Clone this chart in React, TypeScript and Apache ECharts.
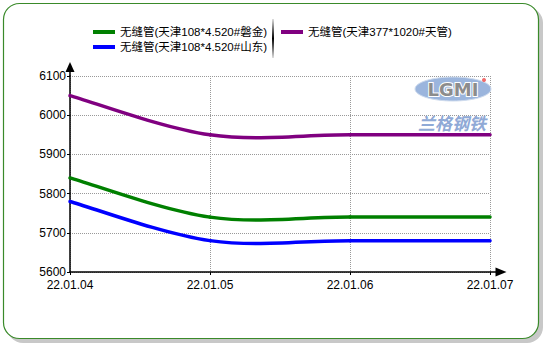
import React, { useEffect, useRef } from "react";
import * as echarts from "echarts";

const categories = ["22.01.04", "22.01.05", "22.01.06", "22.01.07"];
const seriesNames = [
  "无缝管(天津108*4.520#磐金)",
  "无缝管(天津108*4.520#山东)",
  "无缝管(天津377*1020#天管)",
];
const panjin = [5840, 5740, 5740, 5740];
const shandong = [5780, 5680, 5680, 5680];
const tianguan = [6050, 5950, 5950, 5950];
const colors = ["#008000", "#0000ff", "#800080"];

const FONT = "'Liberation Sans', Arial, sans-serif";
const CJK = "'Liberation Sans', 'Noto Sans CJK SC', sans-serif";

function makeSeries(name: string, values: number[], color: string) {
  const n = values.length;
  return {
    name,
    type: "custom",
    data: values.map((v, i) => [i, v]),
    itemStyle: { color },
    z: 3,
    renderItem: (params: any, api: any) => {
      const i = params.dataIndex;
      if (i >= n - 1) return null;
      const pt = (k: number) => {
        const kk = Math.max(0, Math.min(n - 1, k));
        return api.coord([kk, values[kk]]);
      };
      const p0 = pt(i - 1);
      const p1 = pt(i);
      const p2 = pt(i + 1);
      const p3 = pt(i + 2);
      const t1x = (p2[0] - p0[0]) / 2;
      const t1y = (p2[1] - p0[1]) / 2;
      const t2x = (p3[0] - p1[0]) / 2;
      const t2y = (p3[1] - p1[1]) / 2;
      return {
        type: "bezierCurve",
        shape: {
          x1: p1[0],
          y1: p1[1],
          x2: p2[0],
          y2: p2[1],
          cpx1: p1[0] + t1x / 3,
          cpy1: p1[1] + t1y / 3,
          cpx2: p2[0] - t2x / 3,
          cpy2: p2[1] - t2y / 3,
        },
        style: { stroke: color, lineWidth: 3.5, fill: null, lineCap: "round" },
      };
    },
  };
}

export default function App() {
  const ref = useRef<HTMLDivElement>(null);
  useEffect(() => {
    if (!ref.current) return;
    const chart = echarts.init(ref.current, undefined, { renderer: "svg" });
    const legendText = { fontSize: 11.5, color: "#000", fontFamily: CJK, lineHeight: 14 };
    chart.setOption({
      animation: false,
      backgroundColor: "transparent",
      legend: [
        {
          orient: "vertical",
          left: 88,
          top: 20,
          itemWidth: 22,
          itemHeight: 4,
          itemGap: 1,
          icon: "rect",
          textStyle: legendText,
          data: [seriesNames[0], seriesNames[1]],
          selectedMode: false,
        },
        {
          orient: "vertical",
          left: 276,
          top: 20,
          itemWidth: 22,
          itemHeight: 4,
          itemGap: 1,
          icon: "rect",
          textStyle: legendText,
          data: [seriesNames[2]],
          selectedMode: false,
        },
      ],
      grid: { left: 70, right: 60, top: 76, bottom: 78, containLabel: false },
      xAxis: {
        type: "category",
        data: categories,
        boundaryGap: false,
        axisLine: {
          lineStyle: { color: "#000", width: 1.5 },
          symbol: ["none", "triangle"],
          symbolSize: [9, 11],
          symbolOffset: [0, 11],
        },
        axisTick: { show: true, length: 3, lineStyle: { color: "#000" } },
        axisLabel: { color: "#000", fontSize: 12, fontFamily: FONT, margin: 7 },
        splitLine: { show: true, lineStyle: { color: "#999", type: "dotted", width: 1 } },
      },
      yAxis: {
        type: "value",
        min: 5600,
        max: 6100,
        interval: 100,
        axisLine: {
          show: true,
          lineStyle: { color: "#000", width: 1.5 },
          symbol: ["none", "triangle"],
          symbolSize: [9, 10],
          symbolOffset: [0, 9],
        },
        axisTick: { show: true, length: 3, lineStyle: { color: "#000" } },
        axisLabel: {
          color: "#000",
          fontSize: 12,
          fontFamily: FONT,
          margin: 4,
          formatter: (v: number) => String(v),
        },
        splitLine: { show: true, lineStyle: { color: "#999", type: "dotted", width: 1 } },
      },
      series: [
        makeSeries(seriesNames[0], panjin, colors[0]),
        makeSeries(seriesNames[1], shandong, colors[1]),
        makeSeries(seriesNames[2], tianguan, colors[2]),
      ],
      graphic: [
        {
          type: "rect",
          z: -10,
          shape: { x: 7, y: 7, width: 536, height: 336, r: 16 },
          style: { fill: "#c8c8c8" },
        },
        {
          type: "rect",
          z: -9,
          shape: { x: 3.5, y: 3.5, width: 535, height: 335, r: 16 },
          style: { fill: "#fff", stroke: "#3a8a2a", lineWidth: 1.2 },
        },
        {
          type: "rect",
          z: 5,
          shape: { x: 272, y: 19, width: 2, height: 39 },
          style: {
            fill: new echarts.graphic.LinearGradient(0, 0, 0, 1, [
              { offset: 0, color: "#e0e0e0" },
              { offset: 0.5, color: "#000" },
              { offset: 1, color: "#e0e0e0" },
            ]),
          },
        },
        {
          type: "line",
          z: 2,
          shape: { x1: 490, y1: 272, x2: 497, y2: 272 },
          style: { stroke: "#000", lineWidth: 1.5 },
        },
        {
          type: "line",
          z: 2,
          shape: { x1: 70, y1: 76, x2: 70, y2: 70 },
          style: { stroke: "#000", lineWidth: 1.5 },
        },
        {
          type: "ellipse",
          z: 1,
          shape: { cx: 453, cy: 89, rx: 38, ry: 12 },
          style: { fill: "#9bb5dd", stroke: "#cfdcee", lineWidth: 1 },
        },
        {
          type: "text",
          z: 2,
          x: 453,
          y: 89,
          style: {
            text: "LGMI",
            align: "center",
            verticalAlign: "middle",
            fontSize: 18,
            fontWeight: "bold",
            fontFamily: "'DejaVu Sans', sans-serif",
            fill: "#8c8c8c",
            stroke: "#ffffff",
            lineWidth: 2,
          },
        },
        {
          type: "circle",
          z: 3,
          shape: { cx: 484, cy: 80, r: 2 },
          style: { fill: "#f06a6a" },
        },
        {
          type: "text",
          z: 1,
          x: 452,
          y: 122,
          style: {
            text: "兰格钢铁",
            align: "center",
            verticalAlign: "middle",
            fontSize: 17,
            fontStyle: "italic",
            fontWeight: "bold",
            fontFamily: "'Noto Sans CJK SC', sans-serif",
            fill: "#8fa9d6",
          },
        },
      ],
    });
    return () => chart.dispose();
  }, []);
  return (
    <div
      ref={ref}
      style={{ position: "absolute", left: 0, top: 0, width: 550, height: 350, background: "#fff" }}
    />
  );
}
